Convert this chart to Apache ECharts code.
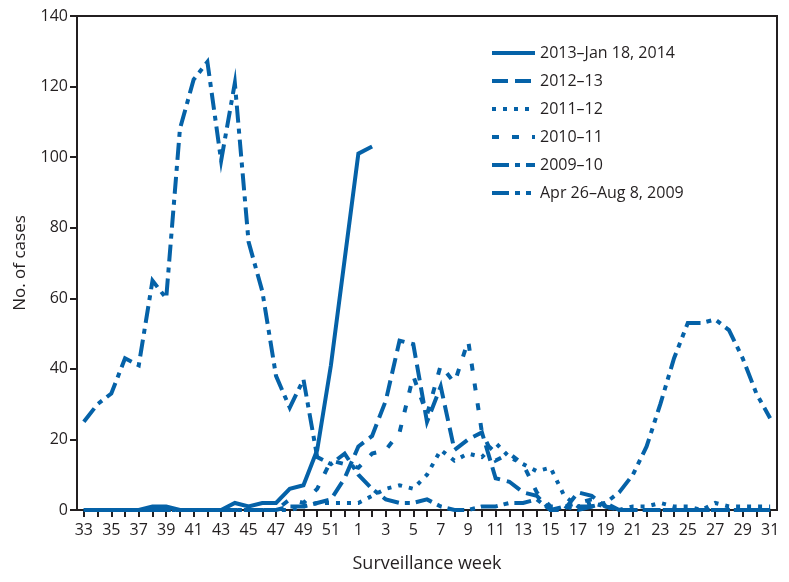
<!DOCTYPE html>
<html>
<head>
<meta charset="utf-8">
<script src="https://cdn.jsdelivr.net/npm/echarts@6/dist/echarts.min.js"></script>
<style>html,body{margin:0;padding:0;background:#fff}#c{width:789px;height:582px}</style>
</head>
<body>
<div id="c"></div>
<script>
var weeks = ['33','34','35','36','37','38','39','40','41','42','43','44','45','46','47','48','49','50','51','52',
  '1','2','3','4','5','6','7','8','9','10','11','12','13','14','15','16','17','18','19','20','21','22','23','24','25','26','27','28','29','30','31'];

var yTicks = [0, 20, 40, 60, 80, 100, 120, 140];

var s2013 = [0,0,0,0,0,1,1,0,0,0,0,2,1,2,2,6,7,17,41,71,101,103];

var s2012 = [0,0,0,0,0,0,0,0,0,0,0,0,0,0,0,1,1,2,3,9,
  18,21,31,48,47,25,35,17,20,22,9,8,5,4,0,0,5,4,1,0,0,0,0,0,0,0,0,0,0,0,0];

var s2011 = [0,0,0,0,0,0,0,0,0,0,0,0,0,0,0,0,1,2,2,2,
  2,4,6,7,6,10,17,14,16,15,19,15,13,11,12,4,1,2,1,0,1,1,2,1,1,0,2,1,1,1,1];

var s2010 = [0,0,0,0,0,0,0,0,0,0,0,0,0,0,0,3,2,6,14,13,
  12,16,17,22,38,27,41,36,48,22,14,16,13,5,1,1,2,3,1,0,0,0,0,0,0,0,0,0,0,0,0];

var s2009 = [25,30,33,43,41,65,60,108,122,127,99,121,76,62,38,29,37,15,13,16,
  10,6,3,2,2,3,1,0,0,1,1,2,2,3,0,1,0,1,2,0,0,0,0,0,0,0,0,0,0,0,0];

var sApr = [null,null,null,null,null,null,null,null,null,null,null,null,null,null,null,null,null,null,null,null,
  null,null,null,null,null,null,null,null,null,null,null,null,null,null,null,null,
  1,1,2,5,10,18,30,43,53,53,54,51,43,33,26];

var names = ['2013\u2013Jan 18, 2014','2012\u201313','2011\u201312','2010\u201311','2009\u201310','Apr 26\u2013Aug 8, 2009'];

var COLOR = '#0562a8';
var INK = '#231f20';
var FONT = 'Open Sans';

function mk(name, data, type) {
  return {
    name: name, type: 'line', data: data, symbol: 'none', smooth: false,
    connectNulls: false,
    lineStyle: { color: COLOR, width: 4, type: type, cap: 'butt', join: 'miter' },
    itemStyle: { color: COLOR },
    emphasis: { disabled: true },
    animation: false
  };
}

var chart = echarts.init(document.getElementById('c'), null, { renderer: 'canvas' });
chart.setOption({
  animation: false,
  grid: { left: 77, right: 12, top: 16, bottom: 72, show: true, borderColor: INK, borderWidth: 2, containLabel: false },
  legend: {
    orient: 'vertical', left: 485, top: 39,
    itemWidth: 43, itemHeight: 18, itemGap: 10,
    selectedMode: false,
    data: names,
    itemStyle: { color: 'rgba(0,0,0,0)', borderWidth: 0, opacity: 0 },
    lineStyle: { width: 4, cap: 'butt' },
    textStyle: { fontFamily: FONT, fontSize: 16, color: INK, lineHeight: 18 }
  },
  xAxis: {
    type: 'category', data: weeks, boundaryGap: true,
    name: 'Surveillance week', nameLocation: 'middle', nameGap: 45,
    nameTextStyle: { fontFamily: FONT, fontSize: 18, color: INK },
    axisLine: { lineStyle: { color: INK, width: 2 } },
    axisTick: { show: true, alignWithLabel: true, interval: 0, length: 7, lineStyle: { color: INK, width: 2 } },
    axisLabel: { interval: 1, margin: 12, fontFamily: FONT, fontSize: 16, color: INK },
    splitLine: { show: false }
  },
  yAxis: {
    type: 'value', min: yTicks[0], max: yTicks[yTicks.length - 1], interval: 20,
    name: 'No. of cases', nameLocation: 'middle', nameGap: 48,
    nameTextStyle: { fontFamily: FONT, fontSize: 17, color: INK },
    axisLine: { show: true, lineStyle: { color: INK, width: 2 } },
    axisTick: { show: true, length: 7, lineStyle: { color: INK, width: 2 } },
    axisLabel: { margin: 9, fontFamily: FONT, fontSize: 16, color: INK },
    splitLine: { show: false }
  },
  series: [
    mk(names[0], s2013, 'solid'),
    mk(names[1], s2012, [16, 7]),
    mk(names[2], s2011, [4, 7]),
    mk(names[3], s2010, [7, 13]),
    mk(names[4], s2009, [17, 6, 5, 6]),
    mk(names[5], sApr, [17, 6, 5, 6, 5, 6])
  ]
});
</script>
</body>
</html>
